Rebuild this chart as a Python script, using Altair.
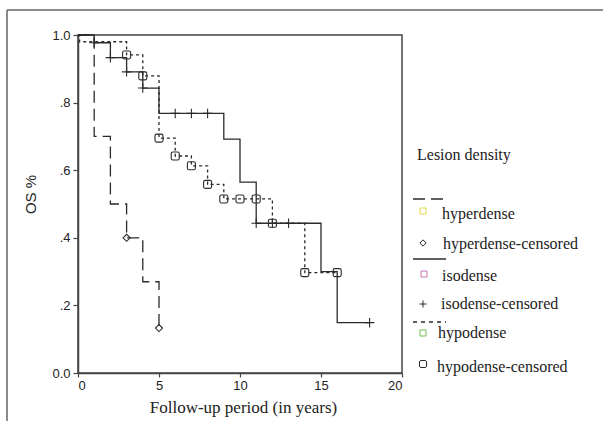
import altair as alt
import pandas as pd

# ---- data ----
hyper_t = [0, 1, 2, 3, 4, 5]
hyper_s = [1.0, 0.70, 0.50, 0.40, 0.27, 0.133]
hyper_cens_t = [3, 5]
hyper_cens_s = [0.40, 0.133]

iso_t = [0, 1, 2, 3, 4, 5, 9, 10, 11, 15, 16, 18]
iso_s = [1.0, 0.977, 0.933, 0.891, 0.843, 0.768, 0.692, 0.565, 0.443, 0.300, 0.149, 0.149]
iso_cens_t = [1, 2, 3, 4, 6, 7, 8, 11, 12, 13, 18]
iso_cens_s = [0.977, 0.933, 0.891, 0.843, 0.768, 0.768, 0.768, 0.443, 0.443, 0.443, 0.149]

hypo_t = [0, 0.1, 3, 4, 5, 6, 7, 8, 9, 12, 14, 16]
hypo_s = [1.0, 0.98, 0.941, 0.879, 0.695, 0.642, 0.613, 0.558, 0.515, 0.443, 0.297, 0.297]
hypo_cens_t = [3, 4, 5, 6, 7, 8, 9, 10, 11, 12, 14, 16]
hypo_cens_s = [0.941, 0.879, 0.695, 0.642, 0.613, 0.558, 0.515, 0.515, 0.515, 0.443, 0.297, 0.297]

x_ticks = [0, 5, 10, 15, 20]
y_ticks = [0, 0.2, 0.4, 0.6, 0.8, 1.0]

legend_title = "Lesion density"
legend_labels = ["hyperdense", "hyperdense-censored", "isodense",
                 "isodense-censored", "hypodense", "hypodense-censored"]

# ---- helpers ----
W, H = 324, 338
INK = "#2a2a2a"
SERIF = "Liberation Serif"
SANS = "Liberation Sans"

PLUS = "M0,-1V1M-1,0H1"
RSQ = ("M-0.6,-1H0.6A0.4,0.4 0 0 1 1,-0.6V0.6A0.4,0.4 0 0 1 0.6,1"
       "H-0.6A0.4,0.4 0 0 1 -1,0.6V-0.6A0.4,0.4 0 0 1 -0.6,-1Z")

xs = alt.Scale(domain=[0, 20], nice=False)
ys = alt.Scale(domain=[0, 1], nice=False)

x_axis = alt.Axis(values=x_ticks, title="Follow-up period (in years)", grid=False,
                  tickSize=4, labelPadding=2, titleX=165, titleY=34,
                  titleBaseline="middle", titleAlign="center")
y_axis = alt.Axis(values=y_ticks, title="OS %", grid=False, tickSize=5, labelPadding=3,
                  labelExpr="datum.value == 0 ? '0.0' : datum.value == 1 ? '1.0' : '.' + round(datum.value*10)",
                  titleX=-48, titleY=159, titleAngle=-90, titleBaseline="middle",
                  titleAlign="center", titleFont=SANS, titleFontSize=15, titleFontWeight="normal")


def xy():
    return dict(x=alt.X("t:Q", scale=xs, axis=x_axis),
                y=alt.Y("s:Q", scale=ys, axis=y_axis))


def step_line(t, s, dash):
    df = pd.DataFrame({"t": t, "s": s})
    kw = dict(interpolate="step-after", color=INK, strokeWidth=1.3)
    if dash:
        kw["strokeDash"] = dash
    return alt.Chart(df).mark_line(**kw).encode(**xy())


def censor(t, s, shape, size, sw=1.1):
    df = pd.DataFrame({"t": t, "s": s})
    return alt.Chart(df).mark_point(shape=shape, size=size, filled=False, color=INK,
                                    strokeWidth=sw, opacity=1).encode(**xy())


one = pd.DataFrame({"a": [0]})


def ltext(txt, x, y, size=16):
    return alt.Chart(one).mark_text(text=txt, align="left", baseline="middle", font=SERIF,
                                    fontSize=size, color="#222222").encode(
        x=alt.value(x), y=alt.value(y))


def lrule(x1, x2, y1, y2, dash=None, color="#555555", sw=1.3):
    kw = dict(color=color, strokeWidth=sw)
    if dash:
        kw["strokeDash"] = dash
    return alt.Chart(one).mark_rule(**kw).encode(
        x=alt.value(x1), x2=alt.value(x2), y=alt.value(y1), y2=alt.value(y2))


def lsym(x, y, shape, size, color, sw=1.0):
    return alt.Chart(one).mark_point(shape=shape, size=size, filled=False, color=color,
                                     strokeWidth=sw, opacity=1).encode(
        x=alt.value(x), y=alt.value(y))


LONG = [12, 6]
SHORT = [3, 3]

layers = [
    step_line(hyper_t, hyper_s, LONG),
    step_line(iso_t, iso_s, None),
    step_line(hypo_t, hypo_s, SHORT),
    censor(hyper_cens_t, hyper_cens_s, "diamond", 50),
    censor(iso_cens_t, iso_cens_s, PLUS, 90),
    censor(hypo_cens_t, hypo_cens_s, RSQ, 64),
    # outer frame
    lrule(-71, -71, -25, 386, color="#666666", sw=1.5),
    lrule(-71, 525, -25, -25, color="#666666", sw=1.5),
    # legend
    ltext(legend_title, 339, 120),
    lrule(335, 368, 164, 164, dash=LONG, color=INK),
    lsym(345, 176, "square", 36, "#e6d84a"),
    ltext(legend_labels[0], 364, 179),
    lsym(345, 208, "diamond", 40, INK),
    ltext(legend_labels[1], 365, 209),
    lrule(335, 368, 224, 224, color=INK),
    lsym(346, 239, "square", 36, "#c86fb8"),
    ltext(legend_labels[2], 364, 241),
    lsym(345, 269, PLUS, 49, INK),
    ltext(legend_labels[3], 363, 269),
    lrule(335, 368, 287, 287, dash=[4, 4], color=INK),
    lsym(345, 298, "square", 36, "#6cc04a"),
    ltext(legend_labels[4], 360, 298),
    lsym(345, 329, RSQ, 49, INK),
    ltext(legend_labels[5], 359, 332),
]

chart = alt.layer(*layers).properties(
    width=W, height=H,
    background="white",
    autosize=alt.AutoSizeParams(type="none"),
    padding={"left": 78, "top": 35, "right": 201, "bottom": 48},
).configure_view(
    stroke="#444444", strokeWidth=1.5
).configure_axis(
    domainColor="#444444", domainWidth=1.5, tickColor="#444444", tickWidth=1.2,
    labelFont=SANS, labelFontSize=13, labelColor="#222222",
    titleFont=SERIF, titleFontSize=17, titleFontWeight="normal", titleColor="#222222",
)

chart.save("out.html", embed_options={"renderer": "svg", "actions": False})
